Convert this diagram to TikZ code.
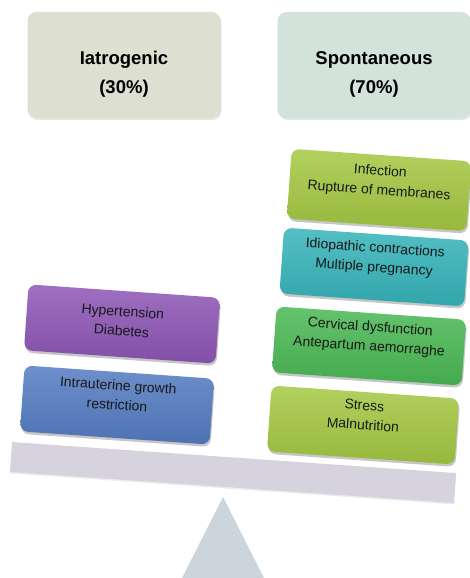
\documentclass[tikz,border=0pt]{standalone}
\usepackage{fontspec}
\setmainfont{Liberation Sans}
\usepackage{tikz}
\usetikzlibrary{shadows}
\definecolor{IatroGrey}{RGB}{221,224,209}
\definecolor{SpontGrey}{RGB}{211,226,218}
\definecolor{CausePurple}{RGB}{142,86,182}
\definecolor{CauseBlue}{RGB}{84,124,194}
\definecolor{CauseLime}{RGB}{164,200,66}
\definecolor{CauseTeal}{RGB}{54,180,186}
\definecolor{CauseGreen}{RGB}{74,184,84}
\definecolor{BeamGrey}{RGB}{214,211,222}
\definecolor{PivotGrey}{RGB}{204,213,220}

\begin{document}
\begin{tikzpicture}[x=1pt, y=-1pt, every node/.style={align=center},
    side/.style={rounded corners=9pt, minimum width=193pt, minimum height=106pt,
      text height=60pt, font=\fontsize{18.5}{29}\selectfont\bfseries,
      drop shadow={opacity=0.2, shadow xshift=1pt, shadow yshift=-2pt}},
    cause/.style={rounded corners=8pt, rotate=-4, minimum width=188pt, minimum height=66pt,
      text depth=20pt, text=black!90, font=\fontsize{14}{19.5}\selectfont,
      drop shadow={opacity=0.45, shadow xshift=1pt, shadow yshift=-2.5pt}},
    shade/.style={top color=#1!85!white, bottom color=#1!92!black}]
  \useasboundingbox (0,0) rectangle (470,578);

  % the two sides
  \node[side, fill=IatroGrey] (iatro) at (124,65) {Iatrogenic\\(30\%)};
  \node[side, fill=SpontGrey] (spont) at (374,65) {Spontaneous\\(70\%)};

  % beam and pivot
  \node[fill=BeamGrey, minimum width=445pt, minimum height=30pt, rotate=-4, inner sep=0pt,
    drop shadow={opacity=0.15, shadow xshift=0pt, shadow yshift=-1.5pt}]
    (beam) at (233,472.5) {};
  \fill[PivotGrey] (223,497) -- (264,578) -- (182,578) -- cycle;

  % iatrogenic causes
  \node[cause, shade=CauseBlue, minimum width=190pt] (iugr) at (117,405)
    {Intrauterine growth\\restriction};
  \node[cause, shade=CausePurple, minimum width=192pt, text depth=6pt] (hyper) at (122,324)
    {Hypertension\\Diabetes};

  % spontaneous causes
  \node[cause, shade=CauseLime] (stress) at (363,425) {Stress\\Malnutrition};
  \node[cause, shade=CauseGreen, minimum width=190pt] (cervix) at (369,346)
    {Cervical dysfunction\\Antepartum aemorraghe};
  \node[cause, shade=CauseTeal, minimum width=185pt] (idio) at (374,267)
    {Idiopathic contractions\\Multiple pregnancy};
  \node[cause, shade=CauseLime, minimum width=180pt, minimum height=70pt] (infect) at (379,190)
    {Infection\\Rupture of membranes};
\end{tikzpicture}
\end{document}
